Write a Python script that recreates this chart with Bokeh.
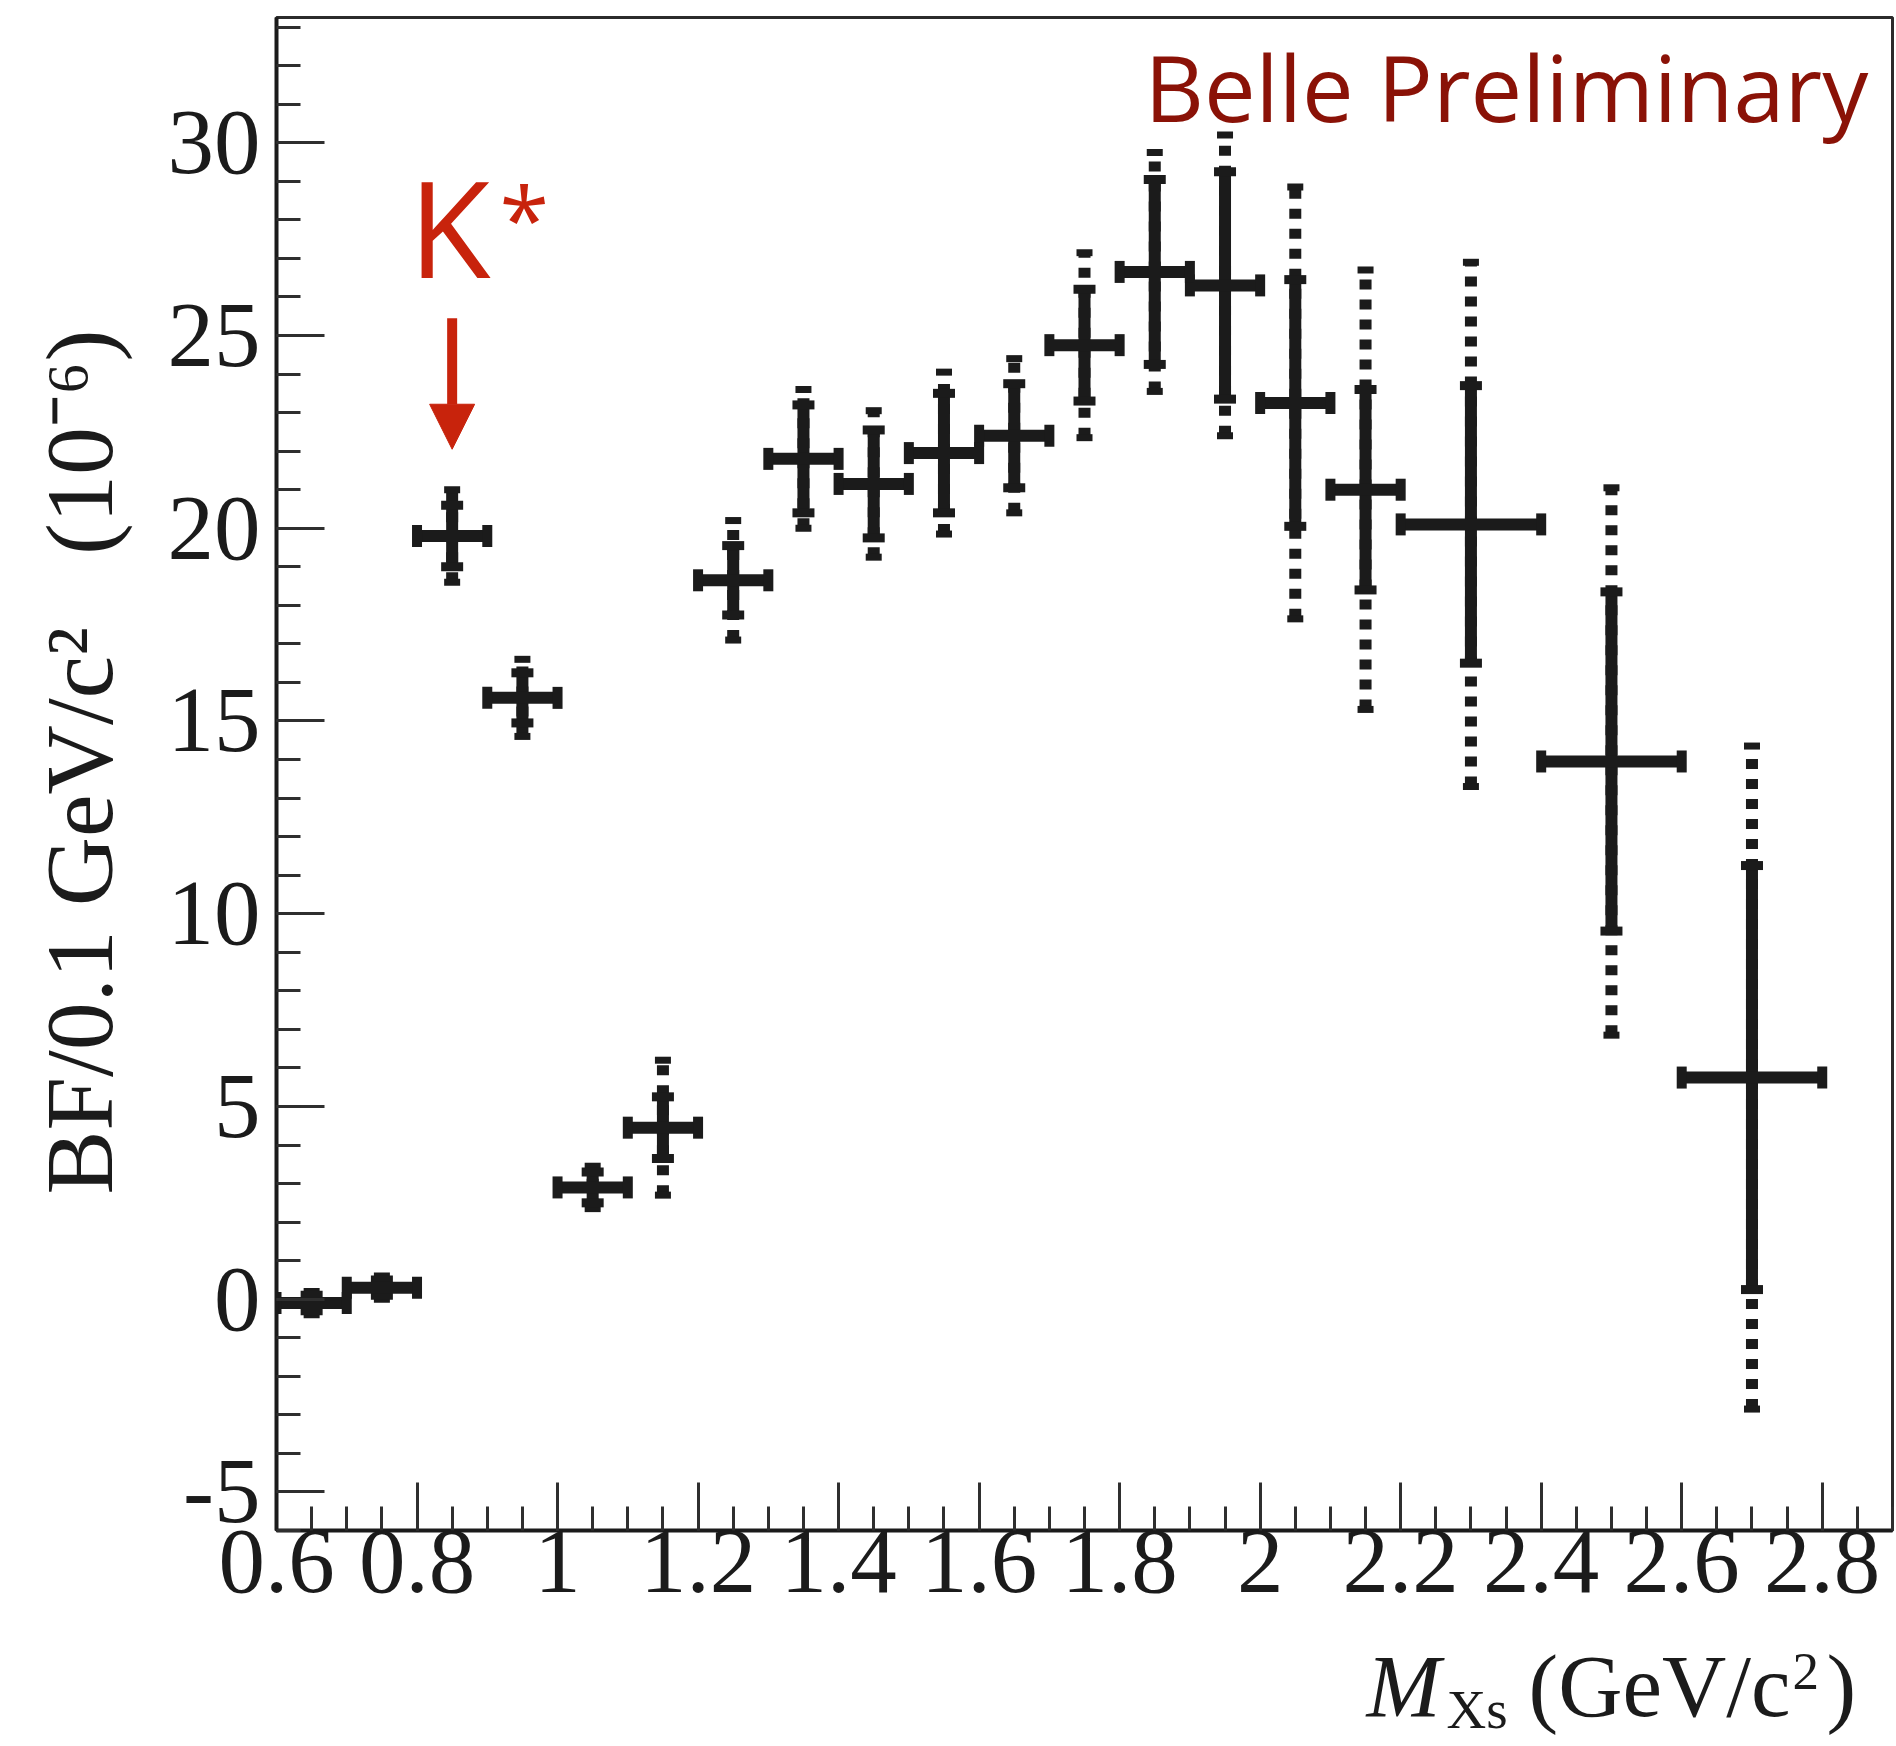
from bokeh.plotting import figure
from bokeh.layouts import column
from bokeh.models import (Range1d, FixedTicker, ColumnDataSource, Label, Arrow, NormalHead)
from bokeh.embed import file_html
from bokeh.resources import INLINE

# ---------------- data ----------------
bin_lo = [0.6, 0.7, 0.8, 0.9, 1.0, 1.1, 1.2, 1.3, 1.4, 1.5, 1.6, 1.7, 1.8, 1.9, 2.0, 2.1, 2.2, 2.4, 2.6]
bin_hi = [0.7, 0.8, 0.9, 1.0, 1.1, 1.2, 1.3, 1.4, 1.5, 1.6, 1.7, 1.8, 1.9, 2.0, 2.1, 2.2, 2.4, 2.6, 2.8]
bf     = [-0.1, 0.3, 19.8, 15.6, 2.9, 4.45, 18.65, 21.8, 21.15, 21.95, 22.4, 24.75, 26.65, 26.3, 23.25, 21.0, 20.1, 13.95, 5.75]
err_stat  = [0.2, 0.2, 0.8, 0.65, 0.4, 0.8, 0.9, 1.4, 1.4, 1.55, 1.35, 1.45, 2.4, 2.95, 3.2, 2.6, 3.6, 4.4, 5.5]
err_total = [0.3, 0.3, 1.2, 1.0, 0.55, 1.75, 1.55, 1.8, 1.9, 2.1, 2.0, 2.4, 3.1, 3.9, 5.6, 5.7, 6.8, 7.1, 8.6]

x_major = [0.6, 0.8, 1.0, 1.2, 1.4, 1.6, 1.8, 2.0, 2.2, 2.4, 2.6, 2.8]
x_labels = ["0.6", "0.8", "1", "1.2", "1.4", "1.6", "1.8", "2", "2.2", "2.4", "2.6", "2.8"]
y_major = [-5, 0, 5, 10, 15, 20, 25, 30]
y_labels = ["-5", "0", "5", "10", "15", "20", "25", "30"]

x_range = (0.6, 2.9)
y_range = (-6.0, 33.25)

# annotation anchors
kstar_x = 0.85
kstar_arrow_top = 25.45
kstar_arrow_tip = 22.05

# ---------------- layout ----------------
W, H = 1896, 1746
H1 = 1634                              # main figure height, title strip below
FL, FR, FT, FB = 276, 1892, 17, 1530   # frame edges in pixels

def px2x(px):
    return x_range[0] + (px - FL) / (FR - FL) * (x_range[1] - x_range[0])

def px2y(py):
    return y_range[0] + (FB - py) / (FB - FT) * (y_range[1] - y_range[0])

BASE_FIX = 0.40   # label baseline correction (fraction of font size)

p = figure(width=W, height=H1, output_backend="svg", toolbar_location=None,
           x_range=Range1d(*x_range), y_range=Range1d(*y_range),
           min_border_left=FL, min_border_right=W - FR,
           min_border_top=FT, min_border_bottom=H1 - FB)
p.background_fill_color = "white"
p.border_fill_color = "white"
p.grid.visible = False
p.outline_line_color = "#2b2b2b"
p.outline_line_width = 3

SERIF = "Liberation Serif"
INK = "#1b1b1b"

# x axis
x_minor = [round(0.6 + 0.05 * i, 2) for i in range(47)]
p.xaxis.ticker = FixedTicker(ticks=x_major, minor_ticks=x_minor)
p.xaxis.major_label_overrides = {t: l for t, l in zip(x_major, x_labels)}
# y axis
y_minor = list(range(-6, 34))
p.yaxis.ticker = FixedTicker(ticks=y_major, minor_ticks=y_minor)
p.yaxis.major_label_overrides = {t: l for t, l in zip(y_major, y_labels)}

for ax in (p.xaxis[0], p.yaxis[0]):
    ax.major_tick_in = 48
    ax.major_tick_out = 0
    ax.minor_tick_in = 24
    ax.minor_tick_out = 0
    ax.major_tick_line_width = 3
    ax.minor_tick_line_width = 3
    ax.major_tick_line_color = "#2f2f2f"
    ax.minor_tick_line_color = "#2f2f2f"
    ax.axis_line_width = 4
    ax.axis_line_color = INK
    ax.major_label_text_font = SERIF
    ax.major_label_text_font_size = "93px"
    ax.major_label_text_color = INK

p.xaxis.major_label_standoff = 0
p.yaxis.major_label_standoff = 16

NB = "\u00a0"
p.yaxis.axis_label = NB + "BF/0.1 GeV/c\u00b2" + NB * 3 + "(10\u207b\u2076)"
p.yaxis.axis_label_text_font = SERIF
p.yaxis.axis_label_text_font_size = "96px"
p.yaxis.axis_label_text_font_style = "normal"
p.yaxis.axis_label_text_color = INK
p.yaxis.axis_label_standoff = 32

# ---------------- data marks ----------------
xc = [(a + b) / 2 for a, b in zip(bin_lo, bin_hi)]
src = ColumnDataSource(dict(
    xc=xc, lo=bin_lo, hi=bin_hi, y=bf,
    st_lo=[v - e for v, e in zip(bf, err_stat)], st_hi=[v + e for v, e in zip(bf, err_stat)],
    to_lo=[v - e for v, e in zip(bf, err_total)], to_hi=[v + e for v, e in zip(bf, err_total)],
))

BAR = 12
# total (stat+syst) error: dotted
p.segment(x0="xc", y0="to_lo", x1="xc", y1="to_hi", source=src,
          line_color=INK, line_width=BAR, line_dash="10 10", line_cap="butt")
p.rect(x="xc", y="to_hi", width=16, height=7, width_units="screen", height_units="screen",
       source=src, fill_color=INK, line_color=None)
p.rect(x="xc", y="to_lo", width=16, height=7, width_units="screen", height_units="screen",
       source=src, fill_color=INK, line_color=None)
# statistical error: solid
p.segment(x0="xc", y0="st_lo", x1="xc", y1="st_hi", source=src,
          line_color=INK, line_width=BAR, line_cap="butt")
p.rect(x="xc", y="st_hi", width=22, height=9, width_units="screen", height_units="screen",
       source=src, fill_color=INK, line_color=None)
p.rect(x="xc", y="st_lo", width=22, height=9, width_units="screen", height_units="screen",
       source=src, fill_color=INK, line_color=None)
# bin width
p.segment(x0="lo", y0="y", x1="hi", y1="y", source=src,
          line_color=INK, line_width=BAR, line_cap="butt")
p.rect(x="lo", y="y", width=10, height=22, width_units="screen", height_units="screen",
       source=src, fill_color=INK, line_color=None)
p.rect(x="hi", y="y", width=10, height=22, width_units="screen", height_units="screen",
       source=src, fill_color=INK, line_color=None)

# ---------------- annotations ----------------
RED = "#c8230c"
DARKRED = "#8a1207"

def main_label(text, left, base, size, color):
    p.add_layout(Label(x=px2x(left), y=px2y(base - BASE_FIX * size), text=text,
                       text_font="Open Sans", text_font_size=f"{size}px", text_color=color,
                       text_align="left", text_baseline="alphabetic"))

p.add_layout(Arrow(end=NormalHead(size=45, fill_color=RED, line_color=RED, line_width=1),
                   x_start=kstar_x, y_start=kstar_arrow_top, x_end=kstar_x, y_end=kstar_arrow_tip,
                   line_color=RED, line_width=10))
main_label("K", 408, 279, 134, RED)
main_label("*", 499, 252, 90, RED)
main_label("Belle Preliminary", 1144, 123, 92, DARKRED)

# ---------------- x axis title strip (pixel coordinates) ----------------
# the strip's frame is aligned with the main frame by the column layout,
# so its x range spans the main frame's pixel columns
q = figure(width=W, height=H - H1, output_backend="svg", toolbar_location=None,
           x_range=Range1d(FL, FR), y_range=Range1d(H, H1),
           x_axis_location=None, y_axis_location=None,
           min_border_left=FL, min_border_right=W - FR, min_border_top=0, min_border_bottom=0)
q.background_fill_color = "white"
q.border_fill_color = "white"
q.outline_line_color = None
q.grid.visible = False

def title_piece(text, left, base, size, style="normal"):
    q.add_layout(Label(x=left, y=base - BASE_FIX * size, text=text, text_font=SERIF,
                       text_font_size=f"{size}px", text_font_style=style, text_color=INK,
                       text_align="left", text_baseline="alphabetic"))

title_piece("M", 1366, 1721, 89, "italic")
title_piece("Xs", 1446, 1731, 55)
title_piece("(GeV/c", 1528, 1721, 89)
title_piece("2", 1792, 1692, 53)
title_piece(")", 1826, 1721, 89)

layout = column(p, q, spacing=0)
open("out.html", "w").write(file_html(layout, INLINE))
